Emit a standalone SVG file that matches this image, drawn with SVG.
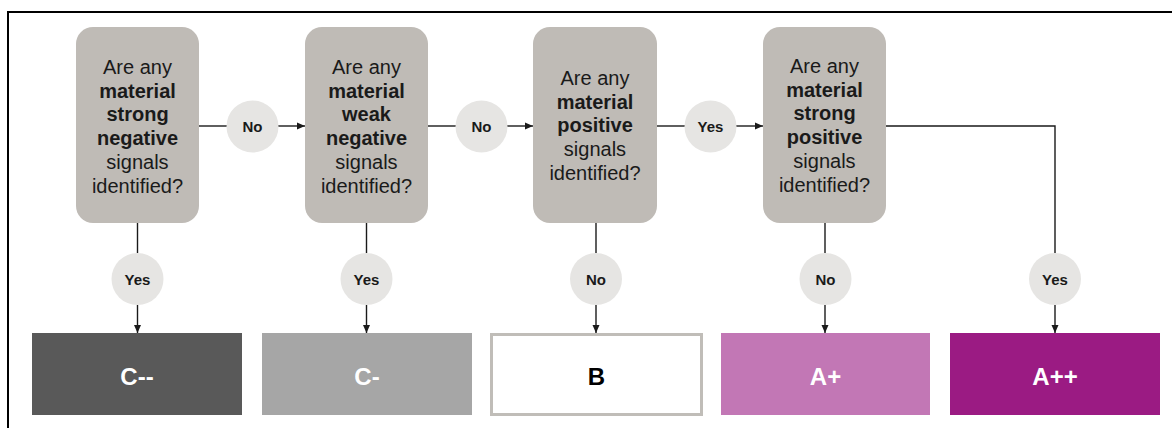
<svg xmlns="http://www.w3.org/2000/svg" width="1172" height="428" viewBox="0 0 1172 428">
<defs>
<marker id="ah" markerWidth="8" markerHeight="8" refX="8" refY="4" orient="auto" markerUnits="userSpaceOnUse">
<path d="M0,0.5 L8,4 L0,7.5 Z" fill="#1a1a1a"/>
</marker>
<style>
.q{fill:#bfbbb6}
.c{fill:#e6e5e3}
.t{font-family:"Liberation Sans",Arial,sans-serif;font-size:20px;fill:#1a1a1a;text-anchor:middle}
.b{font-weight:bold}
.l{font-family:"Liberation Sans",Arial,sans-serif;font-size:15px;font-weight:bold;fill:#1a1a1a;text-anchor:middle}
.r{font-family:"Liberation Sans",Arial,sans-serif;font-size:24px;font-weight:bold;text-anchor:middle}
.ln{fill:none;stroke:#1a1a1a;stroke-width:1.4}
</style>
</defs>
<rect width="1172" height="428" fill="#fff"/>
<path d="M8,428 V12 H1172" fill="none" stroke="#000" stroke-width="2"/>

<g id="connectors">
<path class="ln" d="M199,126 H227"/>
<path class="ln" d="M278,126 H305" marker-end="url(#ah)"/>
<path class="ln" d="M428,126 H456"/>
<path class="ln" d="M507,126 H533" marker-end="url(#ah)"/>
<path class="ln" d="M657,126 H685"/>
<path class="ln" d="M736,126 H763" marker-end="url(#ah)"/>
<path class="ln" d="M886,126 H1055 V253"/>
<path class="ln" d="M1055,305 V333" marker-end="url(#ah)"/>
<path class="ln" d="M137.5,223 V253"/>
<path class="ln" d="M137.5,305 V333" marker-end="url(#ah)"/>
<path class="ln" d="M366.5,223 V253"/>
<path class="ln" d="M366.5,305 V333" marker-end="url(#ah)"/>
<path class="ln" d="M596,223 V253"/>
<path class="ln" d="M596,305 V333" marker-end="url(#ah)"/>
<path class="ln" d="M825,223 V253"/>
<path class="ln" d="M825,305 V333" marker-end="url(#ah)"/>
</g>

<g id="q1">
<rect class="q" x="76" y="27" width="123" height="196" rx="17"/>
<text class="t" x="137.5" y="74">Are any</text>
<text class="t b" x="137.5" y="97.7">material</text>
<text class="t b" x="137.5" y="121.4">strong</text>
<text class="t b" x="137.5" y="145.1">negative</text>
<text class="t" x="137.5" y="168.8">signals</text>
<text class="t" x="137.5" y="192.5">identified?</text>
</g>
<g id="q2">
<rect class="q" x="305" y="27" width="123" height="196" rx="17"/>
<text class="t" x="366.5" y="74">Are any</text>
<text class="t b" x="366.5" y="97.7">material</text>
<text class="t b" x="366.5" y="121.4">weak</text>
<text class="t b" x="366.5" y="145.1">negative</text>
<text class="t" x="366.5" y="168.8">signals</text>
<text class="t" x="366.5" y="192.5">identified?</text>
</g>
<g id="q3">
<rect class="q" x="533" y="27" width="124" height="196" rx="17"/>
<text class="t" x="595" y="85">Are any</text>
<text class="t b" x="595" y="108.7">material</text>
<text class="t b" x="595" y="132.4">positive</text>
<text class="t" x="595" y="156.1">signals</text>
<text class="t" x="595" y="179.8">identified?</text>
</g>
<g id="q4">
<rect class="q" x="763" y="27" width="123" height="196" rx="17"/>
<text class="t" x="824.5" y="73">Are any</text>
<text class="t b" x="824.5" y="96.7">material</text>
<text class="t b" x="824.5" y="120.4">strong</text>
<text class="t b" x="824.5" y="144.1">positive</text>
<text class="t" x="824.5" y="167.8">signals</text>
<text class="t" x="824.5" y="191.5">identified?</text>
</g>

<g id="lbl-no1"><circle class="c" cx="252.5" cy="126.5" r="26"/><text class="l" x="252.5" y="132">No</text></g>
<g id="lbl-no2"><circle class="c" cx="481.5" cy="126.5" r="26"/><text class="l" x="481.5" y="132">No</text></g>
<g id="lbl-yes3"><circle class="c" cx="710.5" cy="126.5" r="26"/><text class="l" x="710.5" y="132">Yes</text></g>
<g id="lbl-yes1"><circle class="c" cx="137.5" cy="279" r="26"/><text class="l" x="137.5" y="284.5">Yes</text></g>
<g id="lbl-yes2"><circle class="c" cx="366.5" cy="279" r="26"/><text class="l" x="366.5" y="284.5">Yes</text></g>
<g id="lbl-no3"><circle class="c" cx="596" cy="279" r="26"/><text class="l" x="596" y="284.5">No</text></g>
<g id="lbl-no4"><circle class="c" cx="825.5" cy="279" r="26"/><text class="l" x="825.5" y="284.5">No</text></g>
<g id="lbl-yes4"><circle class="c" cx="1055" cy="279" r="26"/><text class="l" x="1055" y="284.5">Yes</text></g>

<g id="r-cmm"><rect x="32" y="333" width="210" height="82" fill="#595959"/><text class="r" x="137" y="385" fill="#fff">C--</text></g>
<g id="r-cm"><rect x="262" y="333" width="210" height="82" fill="#a6a6a6"/><text class="r" x="367" y="385" fill="#fff">C-</text></g>
<g id="r-b"><rect x="491.5" y="334.5" width="210" height="80" fill="#fff" stroke="#c0bdb8" stroke-width="3"/><text class="r" x="596.5" y="385" fill="#000">B</text></g>
<g id="r-ap"><rect x="721" y="333" width="209" height="82" fill="#c277b5"/><text class="r" x="825.5" y="385" fill="#fff">A+</text></g>
<g id="r-app"><rect x="950" y="333" width="210" height="82" fill="#9b1b83"/><text class="r" x="1055" y="385" fill="#fff">A++</text></g>
</svg>
